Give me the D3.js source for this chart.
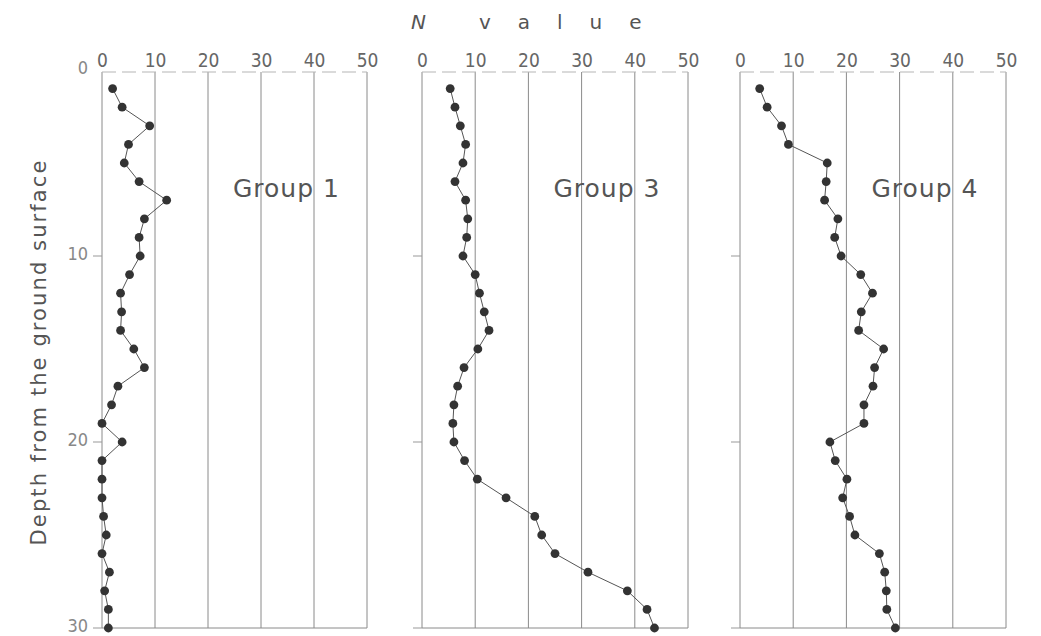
<!DOCTYPE html>
<html>
<head>
<meta charset="utf-8">
<script src="https://cdn.jsdelivr.net/npm/d3@7"></script>
<style>
  body { margin: 0; background: #fff; }
  svg { display: block; }
  text { font-family: "DejaVu Sans", sans-serif; fill: #555; }
</style>
</head>
<body>
<div id="chart"></div>
<script>
// depth of each measurement (m)
var depths = [1, 2, 3, 4, 5, 6, 7, 8, 9, 10, 11, 12, 13, 14, 15,
              16, 17, 18, 19, 20, 21, 22, 23, 24, 25, 26, 27, 28, 29, 30];

// N values
var group1 = [2, 3.8, 9, 5, 4.2, 7, 12.2, 8, 7, 7.2, 5.2, 3.5, 3.7, 3.5, 6,
              8, 3, 1.8, 0, 3.8, 0, 0, 0, 0.3, 0.8, 0, 1.4, 0.5, 1.2, 1.2];
var group3 = [5.3, 6.2, 7.2, 8.2, 7.7, 6.2, 8.2, 8.6, 8.4, 7.7, 10, 10.8, 11.7, 12.6, 10.5,
              7.9, 6.7, 6, 5.8, 6, 8, 10.4, 15.8, 21.2, 22.5, 25, 31.2, 38.6, 42.3, 43.7];
var group4 = [3.7, 5.1, 7.8, 9.1, 16.4, 16.2, 15.9, 18.4, 17.8, 19, 22.7, 24.9, 22.8, 22.3, 27,
              25.3, 25, 23.3, 23.3, 16.9, 17.9, 20.1, 19.3, 20.6, 21.6, 26.2, 27.2, 27.5, 27.6, 29.2];

var groupNames = ["Group 1", "Group 3", "Group 4"];
var nTicks = [0, 10, 20, 30, 40, 50];
var depthTicks = [0, 10, 20, 30];

var width = 1041, height = 636;
var narrow = "'Liberation Sans Narrow', 'DejaVu Sans Condensed', 'DejaVu Sans', sans-serif";

var svg = d3.select("#chart").append("svg")
    .attr("width", width)
    .attr("height", height);

var y = d3.scaleLinear()
    .domain([0, 30])
    .range([70, 628]);

// left/right pixel edge of each panel (N = 0 and N = 50)
var panelRanges = [[102, 367], [422, 688], [740, 1006]];
var series = [group1, group3, group4];

series.forEach(function(values, i) {
    var x = d3.scaleLinear()
        .domain([0, 50])
        .range(panelRanges[i]);

    var g = svg.append("g");

    // vertical grid lines
    g.selectAll(".grid")
        .data(nTicks)
        .enter().append("line")
        .attr("x1", function(d) { return x(d); })
        .attr("x2", function(d) { return x(d); })
        .attr("y1", y(0) + 2)
        .attr("y2", y(30))
        .style("stroke", "#8a8a8a")
        .style("stroke-width", 1);

    // top and bottom frame lines
    g.append("line")
        .attr("x1", x(0)).attr("x2", x(50))
        .attr("y1", y(0) + 2).attr("y2", y(0) + 2)
        .style("stroke", "#b5b5b5")
        .style("stroke-width", 1)
        .style("stroke-dasharray", "14,6");
    g.append("line")
        .attr("x1", x(0)).attr("x2", x(50))
        .attr("y1", y(30)).attr("y2", y(30))
        .style("stroke", "#8a8a8a")
        .style("stroke-width", 1);

    // top N axis labels
    var axis = g.append("g")
        .attr("transform", "translate(0," + (y(0) - 3) + ")")
        .call(d3.axisTop(x).tickValues(nTicks).tickSize(0).tickPadding(0));
    axis.select(".domain").remove();
    axis.selectAll("text")
        .style("font-size", "19px")
        .style("fill", "#666")
        .style("font-family", narrow);

    // small depth ticks on the left edge
    g.selectAll(".dtick")
        .data(depthTicks.slice(1))
        .enter().append("line")
        .attr("x1", x(0) - 9)
        .attr("x2", x(0))
        .attr("y1", function(d) { return y(d); })
        .attr("y2", function(d) { return y(d); })
        .style("stroke", "#999")
        .style("stroke-width", 1);

    // profile line
    var line = d3.line()
        .x(function(d) { return x(d); })
        .y(function(d, j) { return y(depths[j]); });

    g.append("path")
        .datum(values)
        .attr("d", line)
        .style("fill", "none")
        .style("stroke", "#555")
        .style("stroke-width", 1);

    g.selectAll(".pt")
        .data(values)
        .enter().append("circle")
        .attr("cx", function(d) { return x(d); })
        .attr("cy", function(d, j) { return y(depths[j]); })
        .attr("r", 4.4)
        .style("fill", "#333");

    g.append("text")
        .attr("x", x(24.7))
        .attr("y", 197)
        .style("font-size", "25px")
        .style("fill", "#555")
        .style("letter-spacing", "1px")
        .text(groupNames[i]);
});

// depth axis labels
var yAxis = svg.append("g")
    .attr("transform", "translate(88,0)")
    .call(d3.axisLeft(y).tickValues(depthTicks).tickSize(0).tickPadding(0));
yAxis.select(".domain").remove();
yAxis.selectAll("text")
    .attr("dy", "0.22em")
    .style("font-size", "18px")
    .style("fill", "#888")
    .style("font-family", narrow);

// axis titles
svg.append("text")
    .attr("transform", "translate(46," + 352 + ") rotate(-90)")
    .attr("text-anchor", "middle")
    .style("font-size", "21px")
    .style("letter-spacing", "2.1px")
    .style("fill", "#555")
    .text("Depth from the ground surface");

var title = svg.append("text")
    .attr("x", 411)
    .attr("y", 29)
    .style("font-size", "20px")
    .style("fill", "#555");
title.append("tspan")
    .style("font-style", "italic")
    .text("N");
title.append("tspan")
    .attr("dx", 53)
    .style("letter-spacing", "27px")
    .text("value");
</script>
</body>
</html>
